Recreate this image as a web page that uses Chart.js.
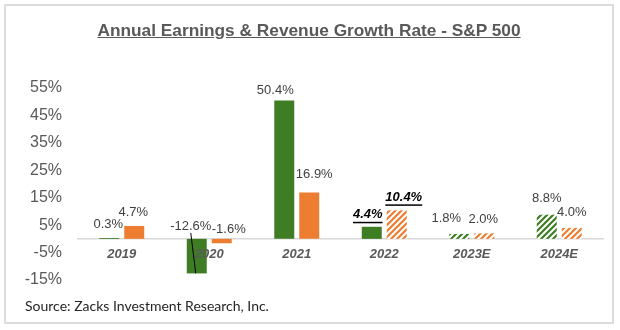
<!DOCTYPE html>
<html><head><meta charset="utf-8">
<script src="https://cdn.jsdelivr.net/npm/chart.js@4"></script>
<style>
html,body{margin:0;padding:0;background:#fff;}
#wrap{position:relative;width:620px;height:330px;overflow:hidden;background:#fff;}
#frame{position:absolute;left:4px;top:4px;width:606px;height:316px;border:2px solid #dcdcdc;}
#title{position:absolute;left:0;width:618px;top:20px;text-align:center;font:bold 17.3px 'Liberation Sans',Arial,sans-serif;color:#595959;white-space:nowrap;}
#title span{text-decoration:underline;}
#source{position:absolute;left:25px;top:297px;font:14px Lato,sans-serif;color:#262626;white-space:nowrap;}
canvas{position:absolute;left:0;top:0;}
</style></head>
<body>
<div id="wrap">
  <div id="frame"></div>
  <canvas id="c" width="620" height="330"></canvas>
  <div id="title"><span>Annual Earnings &amp; Revenue Growth Rate - S&amp;P 500</span></div>
  <div id="source">Source: Zacks Investment Research, Inc.</div>
</div>
<script>
const categories = ['2019', '2020', '2021', '2022', '2023E', '2024E'];
const earningsGrowth = [0.3, -12.6, 50.4, 4.4, 1.8, 8.8];
const revenueGrowth = [4.7, -1.6, 16.9, 10.4, 2.0, 4.0];
const earningsHatched = [false, false, false, false, true, true];
const revenueHatched = [false, false, false, true, true, true];
const highlightFlags = [false, false, false, true, false, false];
const yTickValues = [-15, -5, 5, 15, 25, 35, 45, 55];

// label nudges (style only)
const earningsLabelDx = [-1, -6, -9, -4, -13, 0];
const earningsLabelDy = [14, 12, 10, 12, 15, 16];
const revenueLabelDx = [-1, 7, 5, 7, -1, 0];
const revenueLabelDy = [14, 9, 18, 13, 14, 15];

const GREEN = '#3f7d24';
const ORANGE = '#ed7d31';

function hatch(color) {
  const c = document.createElement('canvas');
  c.width = 6; c.height = 6;
  const g = c.getContext('2d');
  g.fillStyle = '#fff'; g.fillRect(0, 0, 6, 6);
  g.strokeStyle = color; g.lineWidth = 2.2;
  g.beginPath();
  g.moveTo(0, 6); g.lineTo(6, 0);
  g.moveTo(-3, 3); g.lineTo(3, -3);
  g.moveTo(3, 9); g.lineTo(9, 3);
  g.stroke();
  return document.getElementById('c').getContext('2d').createPattern(c, 'repeat');
}

const greenFill = earningsHatched.map(e => e ? hatch(GREEN) : GREEN);
const orangeFill = revenueHatched.map(e => e ? hatch(ORANGE) : ORANGE);

const labelPlugin = {
  id: 'valueLabels',
  afterDatasetsDraw(chart) {
    const ctx = chart.ctx;
    const y0 = chart.scales.y.getPixelForValue(0);
    chart.data.datasets.forEach((ds, di) => {
      const meta = chart.getDatasetMeta(di);
      meta.data.forEach((bar, i) => {
        const v = ds.data[i];
        const txt = v.toFixed(1) + '%';
        const top = Math.min(bar.y, y0);
        const x = bar.x + ds.labelDx[i];
        const y = top - ds.labelDy[i];
        const hl = highlightFlags[i];
        ctx.save();
        ctx.font = (hl ? 'italic bold ' : '') + '13px "Liberation Sans", Arial, sans-serif';
        ctx.fillStyle = hl ? '#000' : '#404040';
        ctx.textAlign = 'center';
        ctx.textBaseline = 'middle';
        ctx.fillText(txt, x, y);
        if (hl) {
          const w = ctx.measureText(txt).width;
          ctx.fillRect(x - w / 2, y + 7, w, 1.5);
        }
        if (di === 0 && v < -5) {
          ctx.strokeStyle = '#000';
          ctx.lineWidth = 1;
          ctx.beginPath();
          ctx.moveTo(x, y + 6);
          ctx.lineTo(bar.x - 1, bar.y);
          ctx.stroke();
        }
        ctx.restore();
      });
    });
  }
};

new Chart(document.getElementById('c'), {
  type: 'bar',
  data: {
    labels: categories,
    datasets: [
      { label: 'Earnings', data: earningsGrowth, backgroundColor: greenFill, borderWidth: 0,
        labelDx: earningsLabelDx, labelDy: earningsLabelDy },
      { label: 'Revenue', data: revenueGrowth, backgroundColor: orangeFill, borderWidth: 0,
        labelDx: revenueLabelDx, labelDy: revenueLabelDy }
    ]
  },
  options: {
    responsive: false,
    animation: false,
    categoryPercentage: 0.571,
    barPercentage: 0.8,
    layout: { padding: { left: 0, right: 17, top: 88, bottom: 50 } },
    plugins: { legend: { display: false }, tooltip: { enabled: false }, title: { display: false } },
    scales: {
      x: {
        type: 'category',
        position: { y: 0 },
        grid: { display: false, drawTicks: false },
        border: { display: true, color: '#d9d9d9', width: 1.5 },
        ticks: { z: 1, color: '#595959', padding: 8, font: { family: '"Liberation Sans", Arial, sans-serif', size: 13, weight: 'bold', style: 'italic' } }
      },
      y: {
        min: -15, max: 55,
        grid: { display: false, drawTicks: false },
        border: { display: false },
        afterBuildTicks: s => { s.ticks = yTickValues.map(v => ({ value: v })); },
        afterFit: s => { s.width = 78; },
        ticks: { color: '#595959', padding: 16, font: { family: '"Liberation Sans", Arial, sans-serif', size: 16 },
          callback: v => v + '%' }
      }
    }
  },
  plugins: [labelPlugin]
});
</script>
</body></html>
